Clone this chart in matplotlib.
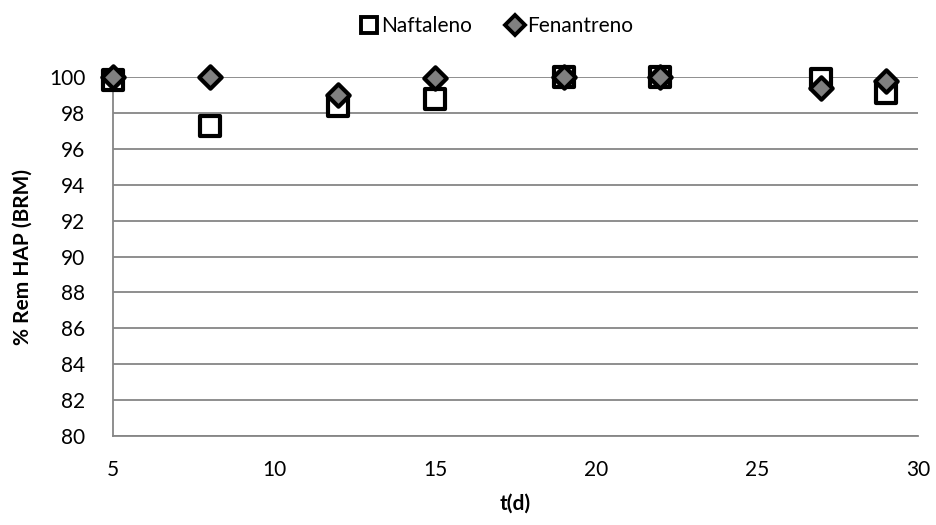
# Remoción de HAP (BRM) vs tiempo
import matplotlib
matplotlib.use("Agg")
import matplotlib.pyplot as plt
from matplotlib.lines import Line2D

# Datos
t_dias = [5, 8, 12, 15, 19, 22, 27, 29]
naftaleno = [99.85, 97.25, 98.4, 98.8, 100.0, 100.0, 99.9, 99.1]
fenantreno = [100.0, 100.0, 99.0, 99.95, 100.0, 100.0, 99.4, 99.8]

x_ticks = [5, 10, 15, 20, 25, 30]
y_ticks = list(range(80, 101, 2))


def main():
    plt.rcParams["font.family"] = ["Lato", "DejaVu Sans"]
    fig = plt.figure(figsize=(9.37, 5.25), dpi=100)
    ax = fig.add_axes([0.1206, 0.1695, 0.859, 0.6838])

    grid_color = "#868686"
    ax.scatter(t_dias, naftaleno, marker="s", s=190, facecolor="white",
               edgecolor="black", linewidth=3.0, zorder=3, clip_on=False)
    ax.scatter(t_dias, fenantreno, marker="D", s=130, facecolor="#808080",
               edgecolor="black", linewidth=3.0, zorder=4, clip_on=False)

    ax.set_xlim(5, 30)
    ax.set_ylim(80, 100)
    ax.set_xticks(x_ticks)
    ax.set_yticks(y_ticks)
    ax.yaxis.grid(True, color=grid_color, linewidth=1.3)
    ax.set_axisbelow(True)
    for side in ["top", "right"]:
        ax.spines[side].set_visible(False)
    for side in ["left", "bottom"]:
        ax.spines[side].set_color(grid_color)
        ax.spines[side].set_linewidth(1.3)
    ax.tick_params(axis="x", length=0, labelsize=15, pad=17)
    ax.tick_params(axis="y", length=0, labelsize=15, pad=20)

    ax.set_xlabel("t(d)", fontsize=15, fontweight="bold", labelpad=10)
    ax.set_ylabel("% Rem HAP (BRM)", fontsize=15, fontweight="bold", labelpad=12)

    handles = [
        Line2D([], [], marker="s", linestyle="none", markersize=12,
               markerfacecolor="white", markeredgecolor="black", markeredgewidth=2.8),
        Line2D([], [], marker="D", linestyle="none", markersize=10,
               markerfacecolor="#808080", markeredgecolor="black", markeredgewidth=2.8),
    ]
    fig.legend(handles, ["Naftaleno", "Fenantreno"], loc="upper center",
               bbox_to_anchor=(0.53, 1.005), ncol=2, frameon=False, fontsize=15,
               handlelength=0.9, handletextpad=0.15, columnspacing=1.6)

    fig.savefig("out.png", dpi=100)


if __name__ == "__main__":
    main()
